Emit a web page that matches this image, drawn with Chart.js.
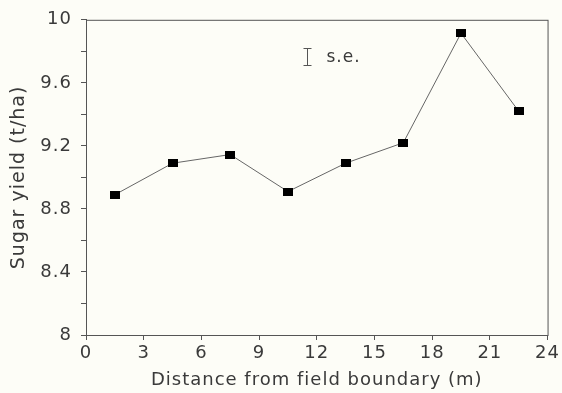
<!DOCTYPE html>
<html>
<head>
<meta charset="utf-8">
<script src="https://cdn.jsdelivr.net/npm/chart.js@4"></script>
<style>
  html, body { margin: 0; padding: 0; background: #fdfdf7; }
  #wrap { width: 562px; height: 393px; }
</style>
</head>
<body>
<div id="wrap"><canvas id="chart" width="562" height="393"></canvas></div>
<script>
/* ── Data ──────────────────────────────────────────────── */
const distances = [1.5, 4.5, 7.5, 10.5, 13.5, 16.5, 19.5, 22.5];
const yields    = [8.89, 9.09, 9.145, 8.91, 9.09, 9.22, 9.915, 9.42];

// standard-error key shown in the plot
const seX    = 11.5;
const seY    = 9.767;
const seHalf = 0.053;

const INK  = "#555";
const TEXT = "#3a3a3a";
const FONT = "'DejaVu Sans', sans-serif";

/* ── Marker: small filled rectangle ───────────────────── */
const marker = document.createElement("canvas");
marker.width = 10; marker.height = 8;
(() => {
  const c = marker.getContext("2d");
  c.fillStyle = "#000";
  c.fillRect(0, 0, 10, 8);
})();

/* ── Frame, s.e. key, wide plotter-style lettering ────── */
const extras = {
  id: "extras",
  beforeDraw(chart) {
    chart.ctx.letterSpacing = "1px";
  },
  afterDraw(chart) {
    const { ctx, chartArea: a, scales: { x, y } } = chart;
    ctx.save();
    ctx.strokeStyle = INK;
    ctx.lineWidth = 1;
    ctx.strokeRect(a.left + 0.5, a.top + 0.5, a.right - a.left, a.bottom - a.top);

    const px = Math.round(x.getPixelForValue(seX)) + 0.5;
    const t  = Math.round(y.getPixelForValue(seY + seHalf)) + 0.5;
    const b  = Math.round(y.getPixelForValue(seY - seHalf)) + 0.5;
    ctx.beginPath();
    ctx.moveTo(px, t); ctx.lineTo(px, b);
    ctx.moveTo(px - 4, t); ctx.lineTo(px + 4, t);
    ctx.moveTo(px - 4, b); ctx.lineTo(px + 4, b);
    ctx.stroke();

    ctx.fillStyle = TEXT;
    ctx.font = "17px " + FONT;
    ctx.letterSpacing = "1px";
    ctx.textBaseline = "middle";
    ctx.fillText("s.e.", px + 19, (t + b) / 2 + 1);
    ctx.restore();
  }
};

new Chart(document.getElementById("chart"), {
  type: "line",
  data: {
    datasets: [{
      data: distances.map((d, i) => ({ x: d, y: yields[i] })),
      borderColor: "#666",
      borderWidth: 1,
      pointStyle: marker,
      pointRadius: 5,
      tension: 0,
    }],
  },
  options: {
    responsive: false,
    animation: false,
    layout: { padding: { top: 18, right: 13, left: 0, bottom: 0 } },
    plugins: { legend: { display: false }, tooltip: { enabled: false } },
    scales: {
      x: {
        type: "linear",
        min: 0, max: 24,
        afterFit: s => { s.height = 58; },
        border: { display: true, color: INK },
        grid: { drawOnChartArea: false, tickLength: 5, color: INK },
        ticks: {
          stepSize: 3, color: TEXT, padding: 3,
          font: { family: FONT, size: 18 },
        },
        title: {
          display: true,
          text: "Distance from field boundary (m)",
          color: TEXT,
          font: { family: FONT, size: 18 },
          padding: { top: 0, bottom: 2 },
        },
      },
      y: {
        min: 8, max: 10,
        afterFit: s => { s.width = 86; },
        border: { display: true, color: INK },
        grid: { drawOnChartArea: false, tickLength: 5, color: INK },
        ticks: {
          stepSize: 0.2, color: TEXT, padding: 9,
          font: { family: FONT, size: 18 },
          callback: v => (Math.round(v * 10) % 4 === 0 ? String(+v.toFixed(1)) : ""),
        },
        title: {
          display: true,
          text: "Sugar yield (t/ha)",
          color: TEXT,
          font: { family: FONT, size: 19 },
          padding: { top: 8, bottom: 4 },
        },
      },
    },
  },
  plugins: [extras],
});
</script>
</body>
</html>
